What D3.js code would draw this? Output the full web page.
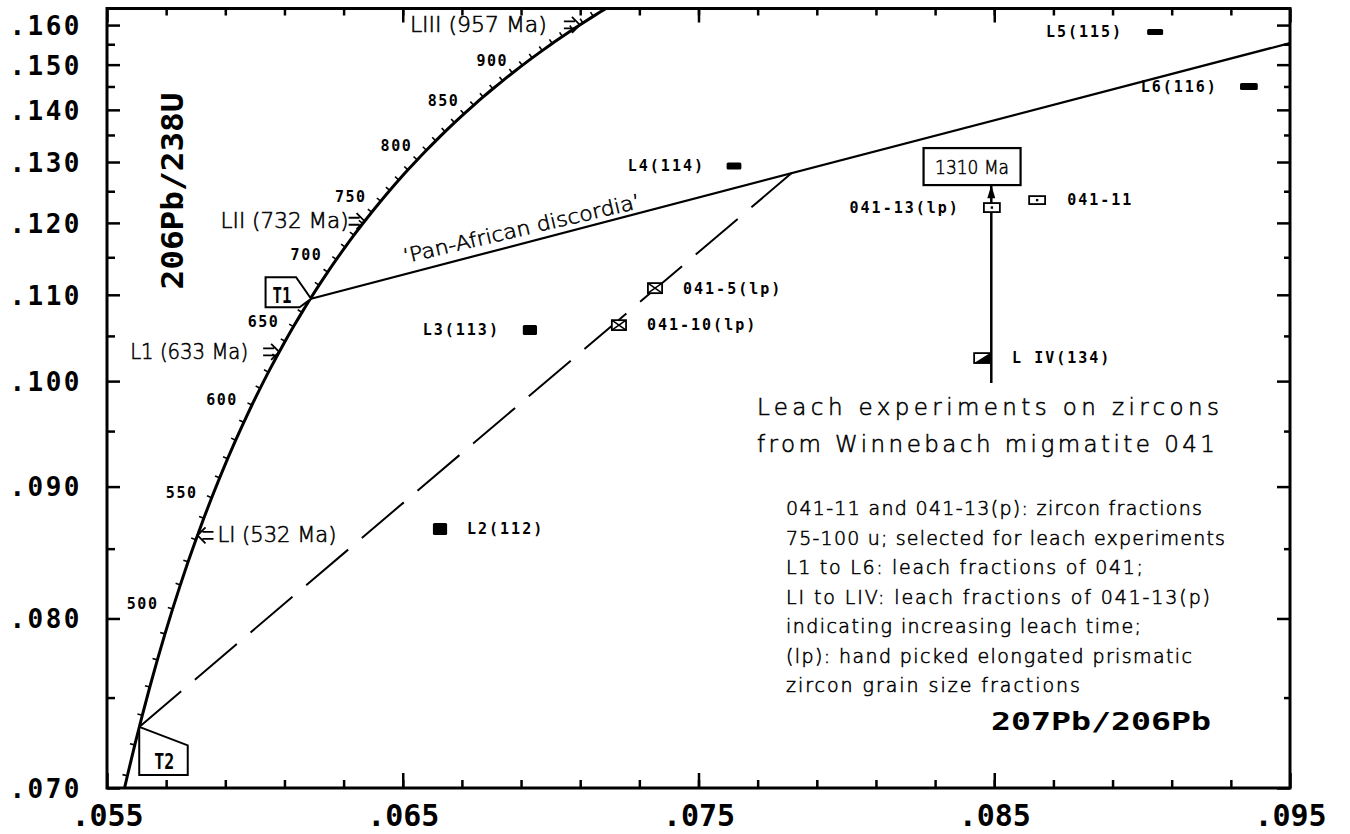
<!DOCTYPE html>
<html>
<head>
<meta charset="utf-8">
<script src="https://cdnjs.cloudflare.com/ajax/libs/d3/7.8.5/d3.min.js"></script>
<style>
  body { margin: 0; background: #fff; }
  svg { display: block; }
  .thin { fill: #000; stroke: #000; stroke-width: 0.55px; }
</style>
</head>
<body>
<script>
// Concordia in 10 Ma steps (Tera-Wasserburg style)
const concordiaAge = [430, 440, 450, 460, 470, 480, 490, 500, 510, 520, 530, 540, 550, 560, 570, 580, 590,
  600, 610, 620, 630, 640, 650, 660, 670, 680, 690, 700, 710, 720, 730, 740, 750, 760, 770, 780, 790,
  800, 810, 820, 830, 840, 850, 860, 870, 880, 890, 900, 910, 920, 930, 940, 950, 960, 970, 980, 990]
const concordiaX = [0.055440, 0.055689, 0.055940, 0.056193, 0.056447, 0.056703, 0.056960, 0.057219,
  0.057480, 0.057742, 0.058006, 0.058272, 0.058539, 0.058808, 0.059079, 0.059351, 0.059625, 0.059901,
  0.060178, 0.060458, 0.060739, 0.061022, 0.061306, 0.061593, 0.061881, 0.062171, 0.062463, 0.062757,
  0.063053, 0.063350, 0.063650, 0.063951, 0.064254, 0.064559, 0.064866, 0.065176, 0.065487, 0.065800,
  0.066115, 0.066432, 0.066751, 0.067072, 0.067395, 0.067720, 0.068048, 0.068377, 0.068709, 0.069042,
  0.069378, 0.069716, 0.070056, 0.070399, 0.070743, 0.071090, 0.071439, 0.071790, 0.072144]
const concordiaY = [0.068979, 0.070638, 0.072300, 0.073965, 0.075632, 0.077302, 0.078975, 0.080650,
  0.082328, 0.084008, 0.085691, 0.087376, 0.089064, 0.090755, 0.092448, 0.094144, 0.095843, 0.097544,
  0.099248, 0.100955, 0.102664, 0.104376, 0.106090, 0.107807, 0.109527, 0.111250, 0.112975, 0.114703,
  0.116433, 0.118166, 0.119902, 0.121641, 0.123382, 0.125126, 0.126873, 0.128622, 0.130374, 0.132129,
  0.133887, 0.135647, 0.137410, 0.139176, 0.140945, 0.142716, 0.144490, 0.146267, 0.148046, 0.149828,
  0.151614, 0.153401, 0.155192, 0.156985, 0.158782, 0.160581, 0.162382, 0.164187, 0.165994]
const ageLabels = [500, 550, 600, 650, 700, 750, 800, 850, 900]

// leach steps pointed at on the concordia
const arrowNames = ['LI (532 Ma)', 'L1 (633 Ma)', 'LII (732 Ma)', 'LIII (957 Ma)']
const arrowX = [0.05806, 0.06082, 0.06371, 0.07099]
const arrowY = [0.08603, 0.10318, 0.12025, 0.16004]

// analyses (207Pb/206Pb, 206Pb/238U, error box half sizes)
const sampleNames = ['L2(112)', 'L3(113)', 'L4(114)', 'L5(115)', 'L6(116)',
  '041-5(lp)', '041-10(lp)', '041-13(lp)', '041-11', 'L IV(134)']
const sampleX = [0.06626, 0.06930, 0.07620, 0.09044, 0.09361, 0.07353, 0.07231, 0.08492, 0.08645, 0.08459]
const sampleY = [0.08652, 0.10569, 0.12928, 0.15814, 0.14498, 0.11086, 0.10627, 0.12237, 0.12356, 0.10249]
const sampleErrX = [0.00024, 0.00024, 0.00025, 0.00027, 0.00030, 0.00024, 0.00024, 0.00027, 0.00027, 0.00027]
const sampleErrY = [0.00047, 0.00059, 0.00062, 0.00079, 0.00077, 0.00065, 0.00059, 0.00071, 0.00064, 0.00055]

// discordia lines
const discordiaX = [0.0619, 0.095]
const discordiaY = [0.1095, 0.1553]
const dashedX = [0.05609, 0.07816]
const dashedY = [0.0733, 0.1281]

// upper intercept annotation
const interceptLabel = '1310 Ma'
const interceptArrowX = 0.0849
const interceptArrowY = [0.0998, 0.1260]
const interceptBoxX = [0.08261, 0.08589]
const interceptBoxY = [0.12602, 0.13253]

// axes
const xTicks = [0.055, 0.065, 0.075, 0.085, 0.095]
const yTicks = [0.070, 0.080, 0.090, 0.100, 0.110, 0.120, 0.130, 0.140, 0.150, 0.160]
const xTitle = '207Pb/206Pb'
const yTitle = '206Pb/238U'

const legendTitle = ['Leach experiments on zircons', 'from Winnebach migmatite 041']
const legendLines = [
  '041-11 and 041-13(p): zircon fractions',
  '75-100 u; selected for leach experiments',
  'L1 to L6: leach fractions of 041;',
  'LI to LIV: leach fractions of 041-13(p)',
  'indicating increasing leach time;',
  '(lp): hand picked elongated prismatic',
  'zircon grain size fractions'
]

// -----------------------------------------------------------------------------

const width = 1350
const height = 834
const box = {left: 107, right: 1290, top: 8.5, bottom: 788}
const mono = "'DejaVu Sans Mono', monospace"
const thin = "'DejaVu Sans', 'Noto Sans', sans-serif"

const x = d3.scaleLinear().domain([0.055, 0.095]).range([box.left, box.right])
// the y axis is linear in 238U/206Pb, i.e. a power scale with exponent -1
const y = d3.scalePow().exponent(-1).domain([0.070, 0.1646]).range([box.bottom, box.top])

const svg = d3.select('body').append('svg')
  .attr('width', width)
  .attr('height', height)

svg.append('clipPath').attr('id', 'clip')
  .append('rect')
  .attr('x', box.left)
  .attr('y', box.top)
  .attr('width', box.right - box.left)
  .attr('height', box.bottom - box.top)

const fmt = d => d3.format('.3f')(d).slice(1)

// ticks, all pointing inwards
function drawAxis (axis, transform) {
  const g = svg.append('g').attr('transform', transform).call(axis)
  g.select('.domain').remove()
  g.selectAll('.tick line').attr('stroke', '#000').attr('stroke-width', 2.5)
  return g
}

const xMinor = d3.range(0.057, 0.094, 0.002)
const yMinor = d3.range(0.075, 0.16, 0.01)

drawAxis(d3.axisBottom(x).tickValues(xMinor).tickSize(-8).tickSizeOuter(0).tickFormat(''), `translate(0,${box.bottom})`)
drawAxis(d3.axisTop(x).tickValues(xMinor).tickSize(-7).tickSizeOuter(0).tickFormat(''), `translate(0,${box.top})`)
drawAxis(d3.axisTop(x).tickValues(xTicks).tickSize(-14).tickSizeOuter(0).tickFormat(''), `translate(0,${box.top})`)
drawAxis(d3.axisLeft(y).tickValues(yMinor).tickSize(-8).tickSizeOuter(0).tickFormat(''), `translate(${box.left},0)`)
drawAxis(d3.axisRight(y).tickValues(yMinor).tickSize(-6).tickSizeOuter(0).tickFormat(''), `translate(${box.right},0)`)
drawAxis(d3.axisRight(y).tickValues(yTicks).tickSize(-13).tickSizeOuter(0).tickFormat(''), `translate(${box.right},0)`)

const xAxis = drawAxis(d3.axisBottom(x).tickValues(xTicks).tickSize(-15).tickSizeOuter(0).tickPadding(17).tickFormat(fmt),
  `translate(0,${box.bottom})`)
xAxis.selectAll('text')
  .attr('font-family', mono)
  .attr('font-weight', 'bold')
  .attr('font-size', 30)
  .attr('fill', '#000')

const yAxis = drawAxis(d3.axisLeft(y).tickValues(yTicks).tickSize(-13).tickSizeOuter(0).tickPadding(25).tickFormat(fmt),
  `translate(${box.left},0)`)
yAxis.selectAll('text')
  .attr('font-family', mono)
  .attr('font-weight', 'bold')
  .attr('font-size', 26)
  .attr('letter-spacing', 2.5)
  .attr('dy', '0.36em')
  .attr('fill', '#000')

svg.append('rect')
  .attr('x', box.left)
  .attr('y', box.top)
  .attr('width', box.right - box.left)
  .attr('height', box.bottom - box.top)
  .attr('fill', 'none')
  .attr('stroke', '#000')
  .attr('stroke-width', 3)

// axis titles
svg.append('text')
  .attr('transform', `translate(183,${(95 + 287) / 2}) rotate(-90)`)
  .attr('text-anchor', 'middle')
  .attr('font-family', mono)
  .attr('font-weight', 'bold')
  .attr('font-size', 30)
  .attr('textLength', 197)
  .attr('lengthAdjust', 'spacingAndGlyphs')
  .text(yTitle)

svg.append('text')
  .attr('x', 991)
  .attr('y', 730)
  .attr('font-family', mono)
  .attr('font-weight', 'bold')
  .attr('font-size', 25)
  .attr('textLength', 220)
  .attr('lengthAdjust', 'spacingAndGlyphs')
  .text(xTitle)

const plot = svg.append('g').attr('clip-path', 'url(#clip)')
const line = d3.line().x(d => x(d[0])).y(d => y(d[1]))

// concordia
const concordia = concordiaAge.map((a, i) => ({age: a, x: concordiaX[i], y: concordiaY[i]}))
plot.append('path')
  .datum(concordia.map(d => [d.x, d.y]))
  .attr('d', line.curve(d3.curveCatmullRom))
  .attr('fill', 'none')
  .attr('stroke', '#000')
  .attr('stroke-width', 3)
line.curve(d3.curveLinear)

// 10 Ma ticks on the upper-left side of the curve
const pts = concordia.map(d => [x(d.x), y(d.y)])
const cticks = concordia.slice(1, -1).map((d, j) => {
  const i = j + 1
  const tx = pts[i + 1][0] - pts[i - 1][0]
  const ty = pts[i + 1][1] - pts[i - 1][1]
  const len = Math.hypot(tx, ty)
  return {age: d.age, px: pts[i][0], py: pts[i][1], nx: ty / len, ny: -tx / len}
})
plot.selectAll('line.cticks')
  .data(cticks).enter()
  .append('line')
  .attr('x1', d => d.px)
  .attr('y1', d => d.py)
  .attr('x2', d => d.px + d.nx * 5)
  .attr('y2', d => d.py + d.ny * 5)
  .attr('stroke', '#000')
  .attr('stroke-width', 1.6)

svg.selectAll('text.age')
  .data(cticks.filter(d => ageLabels.includes(d.age))).enter()
  .append('text')
  .attr('x', d => d.px - 30)
  .attr('y', d => d.py - 5)
  .attr('dy', '0.36em')
  .attr('text-anchor', 'middle')
  .attr('font-family', mono)
  .attr('font-weight', 'bold')
  .attr('font-size', 15)
  .attr('letter-spacing', 1.5)
  .text(d => d.age)

// arrows with leach ages
const arrowDir = [-1, 1, 1, 1]
const arrowTextDx = [20, -31, -16, -33]
arrowNames.forEach((name, i) => {
  const px = x(arrowX[i])
  const py = y(arrowY[i])
  const dir = arrowDir[i]
  svg.append('path')
    .attr('transform', `translate(${px},${py}) scale(${dir},1)`)
    .attr('d', 'M-8,-8L0,0L-8,8M-16,-3.5L-5,-3.5M-16,3.5L-5,3.5')
    .attr('fill', 'none')
    .attr('stroke', '#000')
    .attr('stroke-width', 1.8)
  svg.append('text')
    .attr('class', 'thin')
    .attr('x', px + arrowTextDx[i])
    .attr('y', py + 7)
    .attr('text-anchor', dir < 0 ? 'start' : 'end')
    .attr('font-family', thin)
    .attr('font-weight', 200)
    .attr('font-size', 21)
    .attr('textLength', [119, 118, 128, 137][i])
    .attr('lengthAdjust', 'spacingAndGlyphs')
    .text(name)
})

// discordias
plot.append('path')
  .datum(discordiaX.map((d, i) => [d, discordiaY[i]]))
  .attr('d', line)
  .attr('stroke', '#000')
  .attr('stroke-width', 2.2)

plot.append('path')
  .datum(dashedX.map((d, i) => [d, dashedY[i]]))
  .attr('d', line)
  .attr('stroke', '#000')
  .attr('stroke-width', 2)
  .attr('stroke-dasharray', '55 18')

// 'Pan-African discordia' along the line
const dAngle = Math.atan2(y(discordiaY[1]) - y(discordiaY[0]), x(discordiaX[1]) - x(discordiaX[0])) * 180 / Math.PI
const tx0 = 405
const ty0 = y(discordiaY[0]) + (tx0 - x(discordiaX[0])) * Math.tan(dAngle * Math.PI / 180) - 11
svg.append('text')
  .attr('class', 'thin')
  .attr('transform', `translate(${tx0},${ty0}) rotate(${dAngle + 1.4})`)
  .attr('font-family', thin)
  .attr('font-weight', 200)
  .attr('font-size', 20)
  .attr('textLength', 243)
  .attr('lengthAdjust', 'spacingAndGlyphs')
  .text('\u2018Pan-African discordia\u2019')

// T1 and T2 tags
const t1 = [x(discordiaX[0]), y(discordiaY[0])]
svg.append('path')
  .attr('transform', `translate(${t1[0]},${t1[1]})`)
  .attr('d', 'M0,0L-15,-21.5L-45.5,-21.5L-45.5,8.5L-11.5,8.5Z')
  .attr('fill', '#fff')
  .attr('stroke', '#000')
  .attr('stroke-width', 2)
svg.append('text')
  .attr('x', t1[0] - 29)
  .attr('y', t1[1] + 4)
  .attr('text-anchor', 'middle')
  .attr('font-family', mono)
  .attr('font-weight', 'bold')
  .attr('font-size', 21)
  .attr('textLength', 19)
  .attr('lengthAdjust', 'spacingAndGlyphs')
  .text('T1')

const t2 = [x(dashedX[0]), y(dashedY[0])]
svg.append('path')
  .attr('transform', `translate(${t2[0]},${t2[1]})`)
  .attr('d', 'M0,0L48.5,18.5L48.5,48L0,48Z')
  .attr('fill', '#fff')
  .attr('stroke', '#000')
  .attr('stroke-width', 2)
svg.append('text')
  .attr('x', t2[0] + 25)
  .attr('y', t2[1] + 42)
  .attr('text-anchor', 'middle')
  .attr('font-family', mono)
  .attr('font-weight', 'bold')
  .attr('font-size', 21)
  .attr('textLength', 20)
  .attr('lengthAdjust', 'spacingAndGlyphs')
  .text('T2')

// upper intercept box and arrow
svg.append('line')
  .attr('x1', x(interceptArrowX))
  .attr('x2', x(interceptArrowX))
  .attr('y1', y(interceptArrowY[0]))
  .attr('y2', y(interceptArrowY[1]))
  .attr('stroke', '#000')
  .attr('stroke-width', 2.5)
svg.append('path')
  .attr('transform', `translate(${x(interceptArrowX)},${y(interceptArrowY[1])})`)
  .attr('d', 'M0,0L4,13L-4,13Z')
  .attr('fill', '#000')
svg.append('rect')
  .attr('x', x(interceptBoxX[0]))
  .attr('y', y(interceptBoxY[1]))
  .attr('width', x(interceptBoxX[1]) - x(interceptBoxX[0]))
  .attr('height', y(interceptBoxY[0]) - y(interceptBoxY[1]))
  .attr('fill', '#fff')
  .attr('stroke', '#000')
  .attr('stroke-width', 2.2)
svg.append('text')
  .attr('class', 'thin')
  .attr('x', x((interceptBoxX[0] + interceptBoxX[1]) / 2))
  .attr('y', y(interceptBoxY[0]) - 11)
  .attr('text-anchor', 'middle')
  .attr('font-family', thin)
  .attr('font-weight', 200)
  .attr('font-size', 20)
  .attr('textLength', 74)
  .attr('lengthAdjust', 'spacingAndGlyphs')
  .text(interceptLabel)

// samples
const sampleStyle = ['fill', 'fill', 'fill', 'fill', 'fill', 'cross', 'cross', 'dot', 'dot', 'half']
const sampleLabelDx = [27, -30, -29, -32, -31, 28, 28, -32, 30, 30]
const samples = sampleNames.map((name, i) => ({
  name: name,
  x0: x(sampleX[i] - sampleErrX[i]),
  x1: x(sampleX[i] + sampleErrX[i]),
  y0: y(sampleY[i] + sampleErrY[i]),
  y1: y(sampleY[i] - sampleErrY[i]),
  cx: x(sampleX[i]),
  cy: y(sampleY[i]),
  style: sampleStyle[i],
  dx: sampleLabelDx[i]
}))

const gs = svg.selectAll('g.sample')
  .data(samples).enter()
  .append('g')
  .attr('class', 'sample')

gs.append('rect')
  .attr('x', d => d.x0)
  .attr('y', d => d.y0)
  .attr('width', d => d.x1 - d.x0)
  .attr('height', d => d.y1 - d.y0)
  .attr('rx', d => d.style === 'fill' ? 1.5 : 0)
  .attr('fill', d => d.style === 'fill' ? '#000' : '#fff')
  .attr('stroke', '#000')
  .attr('stroke-width', d => d.style === 'fill' ? 0 : 1.8)

gs.filter(d => d.style === 'cross').append('path')
  .attr('d', d => `M${d.x0},${d.y0}L${d.x1},${d.y1}M${d.x0},${d.y1}L${d.x1},${d.y0}`)
  .attr('stroke', '#000')
  .attr('stroke-width', 1.5)

gs.filter(d => d.style === 'dot').append('rect')
  .attr('x', d => d.cx - 1.2)
  .attr('y', d => d.cy - 1.2)
  .attr('width', 2.4)
  .attr('height', 2.4)
  .attr('fill', '#000')

gs.filter(d => d.style === 'half').append('path')
  .attr('d', d => `M${d.x1},${d.y0}L${d.x1},${d.y1}L${d.x0},${d.y1}Z`)
  .attr('fill', '#000')

gs.append('text')
  .attr('x', d => d.cx + d.dx)
  .attr('y', d => d.cy)
  .attr('dy', '0.36em')
  .attr('text-anchor', d => d.dx < 0 ? 'end' : 'start')
  .attr('font-family', mono)
  .attr('font-weight', 'bold')
  .attr('font-size', 15)
  .attr('letter-spacing', 2)
  .text(d => d.name)

// legend block
svg.selectAll('text.title')
  .data(legendTitle).enter()
  .append('text')
  .attr('class', 'thin')
  .attr('x', 757)
  .attr('y', (d, i) => 415 + i * 37)
  .attr('font-family', thin)
  .attr('font-weight', 200)
  .attr('font-size', 23)
  .attr('textLength', (d, i) => [462, 458][i])
  .attr('lengthAdjust', 'spacing')
  .text(d => d)

const legendWidths = [416, 439, 357, 424, 355, 406, 294]
svg.selectAll('text.legend')
  .data(legendLines).enter()
  .append('text')
  .attr('class', 'thin')
  .attr('x', 786)
  .attr('y', (d, i) => 515 + i * 29.5)
  .attr('font-family', thin)
  .attr('font-weight', 200)
  .attr('font-size', 19)
  .attr('textLength', (d, i) => legendWidths[i])
  .attr('lengthAdjust', 'spacing')
  .text(d => d)
</script>
</body>
</html>
